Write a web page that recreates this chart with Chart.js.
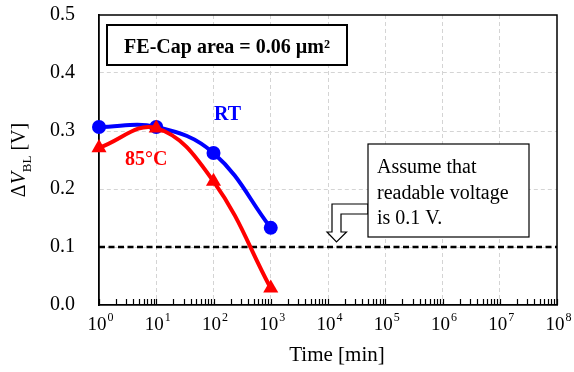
<!DOCTYPE html>
<html>
<head>
<meta charset="utf-8">
<script src="https://cdn.jsdelivr.net/npm/chart.js@4"></script>
<style>
	html, body { margin: 0; padding: 0; background: #ffffff; }
	#wrap { width: 574px; height: 372px; }
</style>
</head>
<body>
<div id="wrap"><canvas id="blChart" width="574" height="372"></canvas></div>
<script>
// retention data
const timeMin = [1, 10, 100, 1000];
const rtValues = [0.307, 0.307, 0.262, 0.133];
const hotValues = [0.271, 0.305, 0.213, 0.029];
const readableLimit = 0.1;
const limitSpan = [1, 1e8];
const yTickValues = [0, 0.1, 0.2, 0.3, 0.4, 0.5];
const xExponents = [0, 1, 2, 3, 4, 5, 6, 7, 8];
const minorSteps = [1, 2, 3, 4, 5, 6, 7, 8, 9];

const SERIF = "'Liberation Serif', 'Times New Roman', serif";

function isDecade(v) {
	const l = Math.log10(v);
	return Math.abs(l - Math.round(l)) < 1e-9;
}

// all tick positions for the log axis (1..9 x 10^n)
const xTickValues = [];
xExponents.forEach((e) => {
	minorSteps.forEach((m) => {
		if (e < 8 || m === 1) xTickValues.push(m * Math.pow(10, e));
	});
});

const decorations = {
	id: "decorations",
	beforeDatasetsDraw(chart) {
		const ctx = chart.ctx;
		const area = chart.chartArea;
		const xs = chart.scales.x;
		ctx.save();
		// top + right frame
		ctx.strokeStyle = "#000";
		ctx.lineWidth = 1.5;
		ctx.beginPath();
		ctx.moveTo(area.left, area.top);
		ctx.lineTo(area.right, area.top);
		ctx.lineTo(area.right, area.bottom);
		ctx.stroke();
		// inside tick marks on the time axis
		ctx.lineWidth = 1.2;
		xs.ticks.forEach((t) => {
			const px = Math.round(xs.getPixelForValue(t.value)) + 0.5;
			ctx.beginPath();
			ctx.moveTo(px, area.bottom);
			ctx.lineTo(px, area.bottom - 6);
			ctx.stroke();
		});
		ctx.restore();
	},
	afterDatasetsDraw(chart) {
		const ctx = chart.ctx;
		const area = chart.chartArea;
		const xs = chart.scales.x;
		const ys = chart.scales.y;
		ctx.save();

		// x tick labels 10^n
		ctx.fillStyle = "#000";
		ctx.textBaseline = "alphabetic";
		ctx.textAlign = "left";
		xExponents.forEach((e) => {
			const px = xs.getPixelForValue(Math.pow(10, e));
			ctx.font = "19px " + SERIF;
			const wBase = ctx.measureText("10").width;
			ctx.font = "12px " + SERIF;
			const wSup = ctx.measureText(String(e)).width;
			const x0 = px - (wBase + wSup) / 2 + 1;
			ctx.font = "19px " + SERIF;
			ctx.fillText("10", x0, area.bottom + 25);
			ctx.font = "12px " + SERIF;
			ctx.fillText(String(e), x0 + wBase + 1, area.bottom + 16);
		});

		// x axis title
		ctx.font = "21px " + SERIF;
		ctx.textAlign = "center";
		ctx.fillText("Time [min]", (area.left + area.right) / 2 + 9, area.bottom + 56);

		// y axis title: ΔV_BL [V]
		ctx.save();
		ctx.translate(25, (area.top + area.bottom) / 2);
		ctx.rotate(-Math.PI / 2);
		ctx.textAlign = "left";
		const parts = [
			{ t: "Δ", f: "20px " + SERIF, dy: 0 },
			{ t: "V", f: "italic 20px " + SERIF, dy: 0 },
			{ t: "BL", f: "13px " + SERIF, dy: 6 },
			{ t: " [V]", f: "20px " + SERIF, dy: 0 },
		];
		let total = 0;
		parts.forEach((p) => {
			ctx.font = p.f;
			p.w = ctx.measureText(p.t).width;
			total += p.w;
		});
		let cx = -total / 2;
		parts.forEach((p) => {
			ctx.font = p.f;
			ctx.fillText(p.t, cx, p.dy);
			cx += p.w;
		});
		ctx.restore();

		// series labels next to the curves
		ctx.font = "bold 20px " + SERIF;
		ctx.textAlign = "center";
		ctx.fillStyle = "#0000ff";
		ctx.fillText("RT", xs.getPixelForValue(timeMin[2]) + 14, ys.getPixelForValue(rtValues[2]) - 33);
		ctx.fillStyle = "#ff0000";
		ctx.fillText("85°C", xs.getPixelForValue(timeMin[1]) - 10, ys.getPixelForValue(hotValues[1]) + 37);

		// capacitor area box
		ctx.fillStyle = "#fff";
		ctx.strokeStyle = "#000";
		ctx.lineWidth = 2;
		const bx = area.left + 8, by = area.top + 10, bw = 240, bh = 40;
		ctx.fillRect(bx, by, bw, bh);
		ctx.strokeRect(bx, by, bw, bh);
		ctx.fillStyle = "#000";
		ctx.font = "bold 20px " + SERIF;
		ctx.fillText("FE-Cap area = 0.06 µm²", bx + bw / 2, by + 28);

		// note box with hollow arrow pointing to the limit line
		const nx = area.left + 269, ny = area.top + 129, nw = 161, nh = 93;
		ctx.lineWidth = 1.2;
		ctx.beginPath();
		ctx.moveTo(nx, ny + 60);
		ctx.lineTo(nx - 36, ny + 60);
		ctx.lineTo(nx - 36, ny + 88);
		ctx.lineTo(nx - 41, ny + 88);
		ctx.lineTo(nx - 31.5, ny + 98);
		ctx.lineTo(nx - 21.5, ny + 88);
		ctx.lineTo(nx - 27, ny + 88);
		ctx.lineTo(nx - 27, ny + 70);
		ctx.lineTo(nx, ny + 70);
		ctx.closePath();
		ctx.fillStyle = "#fff";
		ctx.fill();
		ctx.stroke();
		ctx.fillRect(nx, ny, nw, nh);
		ctx.strokeRect(nx, ny, nw, nh);
		ctx.fillStyle = "#000";
		ctx.font = "20px " + SERIF;
		ctx.textAlign = "left";
		ctx.fillText("Assume that", nx + 9, ny + 29);
		ctx.fillText("readable voltage", nx + 9, ny + 55);
		ctx.fillText("is 0.1 V.", nx + 9, ny + 80);

		ctx.restore();
	},
};

document.addEventListener("DOMContentLoaded", function () {
	const ctx = document.getElementById("blChart").getContext("2d");

	new Chart(ctx, {
		type: "line",
		data: {
			datasets: [
				{
					label: "85°C",
					data: timeMin.map((t, i) => ({ x: t, y: hotValues[i] })),
					borderColor: "#ff0000",
					backgroundColor: "#ff0000",
					borderWidth: 4,
					pointStyle: "triangle",
					pointRadius: 8.7,
					pointBorderWidth: 0,
					tension: 0.4,
					clip: false,
					order: 0,
				},
				{
					label: "RT",
					data: timeMin.map((t, i) => ({ x: t, y: rtValues[i] })),
					borderColor: "#0000ff",
					backgroundColor: "#0000ff",
					borderWidth: 4,
					pointStyle: "circle",
					pointRadius: 7,
					pointBorderWidth: 0,
					tension: 0.4,
					clip: false,
					order: 1,
				},
				{
					label: "limit",
					data: limitSpan.map((t) => ({ x: t, y: readableLimit })),
					borderColor: "#000",
					borderWidth: 2.5,
					borderDash: [6, 3.5],
					pointRadius: 0,
					tension: 0,
					order: 2,
				},
			],
		},
		options: {
			responsive: false,
			devicePixelRatio: 1,
			animation: false,
			layout: { padding: { top: 15, right: 17, left: 0, bottom: 0 } },
			plugins: {
				legend: { display: false },
				tooltip: { enabled: false },
			},
			scales: {
				x: {
					type: "logarithmic",
					min: 1,
					max: 1e8,
					afterBuildTicks(scale) {
						scale.ticks = xTickValues.map((v) => ({ value: v }));
					},
					afterFit(scale) {
						scale.height = 67;
						scale.paddingLeft = 0;
						scale.paddingRight = 0;
					},
					ticks: { display: false },
					grid: {
						drawTicks: false,
						color: (c) => (c.tick && isDecade(c.tick.value) && c.tick.value > 1 && c.tick.value < 1e8 ? "#d4d4d4" : "rgba(0,0,0,0)"),
						lineWidth: 1,
					},
					border: { display: true, color: "#000", width: 1.8, dash: [4, 3] },
				},
				y: {
					min: 0,
					max: 0.5,
					afterBuildTicks(scale) {
						scale.ticks = yTickValues.map((v) => ({ value: v }));
					},
					afterFit(scale) {
						scale.width = 99;
						scale.paddingTop = 0;
						scale.paddingBottom = 0;
					},
					ticks: {
						padding: 24,
						color: "#000",
						font: { family: SERIF, size: 20 },
						callback: (v) => Number(v).toFixed(1),
					},
					grid: {
						drawTicks: false,
						color: (c) => (c.tick && c.tick.value > 0 && c.tick.value < 0.5 ? "#d4d4d4" : "rgba(0,0,0,0)"),
						lineWidth: 1,
					},
					border: { display: true, color: "#000", width: 1.8, dash: [4, 3] },
				},
			},
		},
		plugins: [decorations],
	});
});
</script>
</body>
</html>
